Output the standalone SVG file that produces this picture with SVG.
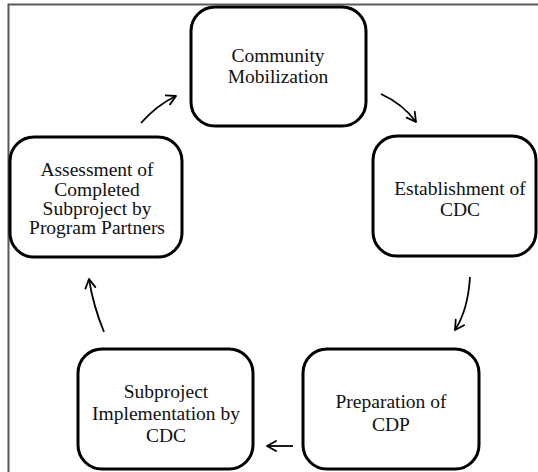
<svg xmlns="http://www.w3.org/2000/svg" width="538" height="472" viewBox="0 0 538 472">
<style>
.box{fill:#fff;stroke:#000;stroke-width:3}
.t{font-family:"Liberation Serif","Times New Roman",serif;font-size:19.5px;fill:#111;text-anchor:middle}
.c{fill:none;stroke:#000;stroke-width:1.8}
.frame{stroke:#5a5a5a;stroke-width:2;fill:none}
</style>
<defs>
<marker id="ah" markerWidth="14" markerHeight="14" refX="10" refY="6" orient="auto" markerUnits="userSpaceOnUse">
<path d="M1,1 L10,6 L1,11" fill="none" stroke="#000" stroke-width="1.8" stroke-linecap="round" stroke-linejoin="round"/>
</marker>
</defs>
<rect width="538" height="472" fill="#fff"/>
<path class="frame" d="M8.5,472 L8.5,4.5 L538,4.5"/>
<g id="connectors">
<path class="c" d="M141,123 Q157,105 176,96" marker-end="url(#ah)"/>
<path class="c" d="M381,94 Q403,104 416,122" marker-end="url(#ah)"/>
<path class="c" d="M470,277 Q468,310 455,330" marker-end="url(#ah)"/>
<path class="c" d="M293,446 L267,446" marker-end="url(#ah)"/>
<path class="c" d="M104,332 Q93,305 89,279" marker-end="url(#ah)"/>
</g>
<g id="community">
<rect class="box" x="191" y="7" width="175" height="119" rx="24"/>
<text class="t" x="278" y="62">Community</text>
<text class="t" x="278" y="83">Mobilization</text>
</g>
<g id="establishment">
<rect class="box" x="373" y="136" width="163" height="120" rx="24"/>
<text class="t" x="460" y="195">Establishment of</text>
<text class="t" x="460" y="216">CDC</text>
</g>
<g id="preparation">
<rect class="box" x="303" y="349" width="176" height="120" rx="24"/>
<text class="t" x="391" y="408">Preparation of</text>
<text class="t" x="391" y="431">CDP</text>
</g>
<g id="implementation">
<rect class="box" x="78" y="349" width="175" height="120" rx="24"/>
<text class="t" x="166" y="398">Subproject</text>
<text class="t" x="166" y="420">Implementation by</text>
<text class="t" x="166" y="442">CDC</text>
</g>
<g id="assessment">
<rect class="box" x="10" y="137" width="172" height="120" rx="24"/>
<text class="t" x="97" y="176">Assessment of</text>
<text class="t" x="97" y="195.5">Completed</text>
<text class="t" x="97" y="215">Subproject by</text>
<text class="t" x="97" y="234">Program Partners</text>
</g>
</svg>
